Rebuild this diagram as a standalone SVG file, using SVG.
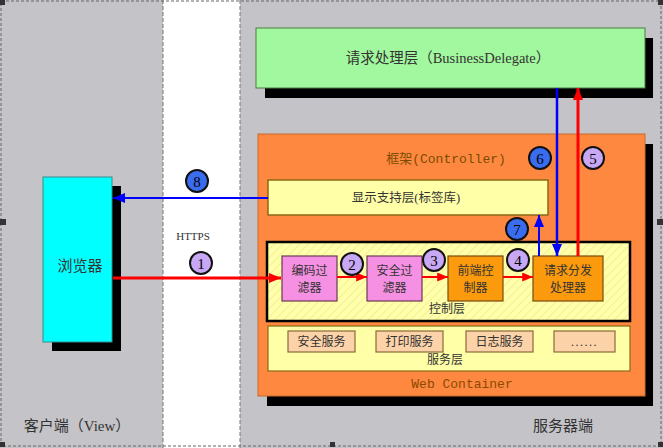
<svg xmlns="http://www.w3.org/2000/svg" width="663" height="448" viewBox="0 0 663 448">
<defs>
<style>
.cjk{font-family:"Liberation Serif","Noto Sans CJK SC",serif;fill:#333;}
.mono{font-family:"Liberation Mono","Noto Sans CJK SC",monospace;}
.shadow{fill:#000;}
.circ{stroke:#111;stroke-width:2;}
.num{font-family:"Liberation Serif",serif;font-size:15px;text-anchor:middle;}
.pink{fill:#f590e2;stroke:#6a3a55;stroke-width:1.2;}
.org{fill:#fb9a0c;stroke:#7a4a10;stroke-width:1.2;}
.svc{fill:#fcd2a8;stroke:#8a6a3a;stroke-width:1.2;}
.t12{font-size:12px;text-anchor:middle;}
</style>
<pattern id="hatch" width="6" height="6" patternUnits="userSpaceOnUse" patternTransform="rotate(45)">
<rect width="6" height="6" fill="#ffffac"/>
<line x1="0" y1="0" x2="0" y2="6" stroke="#f2f090" stroke-width="2"/>
</pattern>
<marker id="ar" viewBox="0 0 12 10" refX="12" refY="5" markerWidth="12" markerHeight="10" markerUnits="userSpaceOnUse" orient="auto"><path d="M0,0 L12,5 L0,10 z" fill="#ff0000"/></marker>
<marker id="arS" viewBox="0 0 12 10" refX="12" refY="5" markerWidth="11" markerHeight="9" markerUnits="userSpaceOnUse" orient="auto"><path d="M0,0 L12,5 L0,10 z" fill="#ff0000"/></marker>
<marker id="ab" viewBox="0 0 12 10" refX="12" refY="5" markerWidth="12" markerHeight="10" markerUnits="userSpaceOnUse" orient="auto"><path d="M0,0 L12,5 L0,10 z" fill="#0000ff"/></marker>
</defs>

<!-- background -->
<rect x="0" y="0" width="663" height="448" fill="#c4c3c7"/>
<rect x="163" y="0" width="77" height="448" fill="#ffffff"/>
<line x1="163" y1="0" x2="163" y2="448" stroke="#777" stroke-width="1" stroke-dasharray="4,2"/>
<line x1="240" y1="0" x2="240" y2="448" stroke="#777" stroke-width="1" stroke-dasharray="4,2"/>
<rect x="1" y="1" width="660" height="445" fill="none" stroke="#666" stroke-width="1" stroke-dasharray="3,2"/>
<g fill="#333">
<rect x="0" y="0" width="5" height="5"/><rect x="658" y="0" width="5" height="5"/>
<rect x="0" y="219" width="6" height="6"/><rect x="657" y="219" width="6" height="6"/>
<rect x="0" y="442" width="5" height="5"/><rect x="330" y="442" width="5" height="5"/><rect x="658" y="442" width="5" height="5"/>
</g>

<text class="cjk" x="77" y="431" font-size="15" text-anchor="middle">客户端（View）</text>
<text class="cjk" x="563" y="431" font-size="15" text-anchor="middle">服务器端</text>
<text class="cjk" x="193" y="240" font-size="11" text-anchor="middle">HTTPS</text>

<g id="business">
<rect class="shadow" x="265" y="38" width="388" height="60"/>
<rect x="256" y="28" width="389" height="60" fill="#a2f89e" stroke="#4f7a45" stroke-width="1"/>
<text class="cjk" x="448" y="63" font-size="14.5" text-anchor="middle">请求处理层（BusinessDelegate）</text>
</g>

<g id="browser">
<rect class="shadow" x="52" y="186" width="69" height="165"/>
<rect x="43" y="177" width="69" height="165" fill="#00ffff" stroke="#3a8a8a" stroke-width="1"/>
<text class="cjk" x="80" y="271" font-size="15" text-anchor="middle">浏览器</text>
</g>

<g id="container">
<rect class="shadow" x="267" y="144" width="386" height="262"/>
<rect x="258" y="134" width="387" height="262" fill="#fe8840" stroke="#c86a30" stroke-width="1"/>
<text class="mono" x="446" y="163" font-size="13" fill="#7a4c00" text-anchor="middle">框架(Controller)</text>
<text class="mono" x="462" y="388" font-size="13" fill="#8a4a00" text-anchor="middle">Web Container</text>
</g>

<g id="display">
<rect x="268" y="180" width="280" height="35" fill="#ffffa8" stroke="#8a6a14" stroke-width="1.5"/>
<text class="cjk" x="406" y="202" font-size="12.5" text-anchor="middle">显示支持层(标签库)</text>
</g>

<g id="control">
<rect x="267" y="242" width="363" height="79" fill="url(#hatch)" stroke="#000" stroke-width="2.5"/>
<text class="cjk t12" x="447" y="313">控制层</text>
</g>

<g id="enc">
<rect class="pink" x="282" y="256" width="55" height="45"/>
<text class="cjk t12" x="309.5" y="275">编码过</text>
<text class="cjk t12" x="309.5" y="292">滤器</text>
</g>
<g id="sec">
<rect class="pink" x="367" y="256" width="55" height="45"/>
<text class="cjk t12" x="394.5" y="275">安全过</text>
<text class="cjk t12" x="394.5" y="292">滤器</text>
</g>
<g id="front">
<rect class="org" x="448" y="256" width="55" height="45"/>
<text class="cjk t12" x="475.5" y="275">前端控</text>
<text class="cjk t12" x="475.5" y="292">制器</text>
</g>
<g id="dispatch">
<rect class="org" x="533" y="256" width="70" height="45"/>
<text class="cjk t12" x="568" y="275">请求分发</text>
<text class="cjk t12" x="568" y="292">处理器</text>
</g>

<g id="service">
<rect x="268" y="326" width="362" height="45" fill="#ffffa8" stroke="#8a6a14" stroke-width="1.2"/>
<text class="cjk t12" x="445" y="364">服务层</text>
<rect class="svc" x="288" y="331" width="67" height="21"/>
<text class="cjk t12" x="321.5" y="346">安全服务</text>
<rect class="svc" x="376" y="331" width="67" height="21"/>
<text class="cjk t12" x="409.5" y="346">打印服务</text>
<rect class="svc" x="466" y="331" width="67" height="21"/>
<text class="cjk t12" x="499.5" y="346">日志服务</text>
<rect class="svc" x="554" y="331" width="61" height="21"/>
<text class="cjk t12" x="584.5" y="346" letter-spacing="1.5">......</text>
</g>

<g id="connectors">
<line x1="113" y1="278" x2="281" y2="278" stroke="#ff0000" stroke-width="3" marker-end="url(#ar)"/>
<line x1="337" y1="277" x2="367" y2="277" stroke="#ff0000" stroke-width="2" marker-end="url(#arS)"/>
<line x1="422" y1="277" x2="448" y2="277" stroke="#ff0000" stroke-width="2" marker-end="url(#arS)"/>
<line x1="503" y1="277" x2="533" y2="277" stroke="#ff0000" stroke-width="2" marker-end="url(#arS)"/>
<line x1="578" y1="256" x2="578" y2="88" stroke="#ff0000" stroke-width="3" marker-end="url(#ar)"/>
<line x1="557" y1="88" x2="557" y2="256" stroke="#0000ff" stroke-width="2.5" marker-end="url(#ab)"/>
<line x1="539" y1="256" x2="539" y2="215" stroke="#0000ff" stroke-width="2" marker-end="url(#ab)"/>
<line x1="268" y1="198" x2="113" y2="198" stroke="#0000ff" stroke-width="2" marker-end="url(#ab)"/>
</g>

<g id="badges">
<circle class="circ" cx="201" cy="263" r="11" fill="#c8a8f5"/><text class="num" x="201" y="268.5">1</text>
<circle class="circ" cx="352" cy="264" r="11" fill="#c8a8f5"/><text class="num" x="352" y="269.5">2</text>
<circle class="circ" cx="434" cy="260" r="11" fill="#c8a8f5"/><text class="num" x="434" y="265.5">3</text>
<circle class="circ" cx="518" cy="260" r="11" fill="#c8a8f5"/><text class="num" x="518" y="265.5">4</text>
<circle class="circ" cx="593" cy="158" r="11" fill="#c8a8f5"/><text class="num" x="593" y="163.5">5</text>
<circle class="circ" cx="540" cy="158" r="11" fill="#3a6cf0"/><text class="num" x="540" y="163.5">6</text>
<circle class="circ" cx="517" cy="229" r="11" fill="#3a6cf0"/><text class="num" x="517" y="234.5">7</text>
<circle class="circ" cx="197" cy="181" r="11" fill="#3a6cf0"/><text class="num" x="197" y="186.5">8</text>
</g>
</svg>
